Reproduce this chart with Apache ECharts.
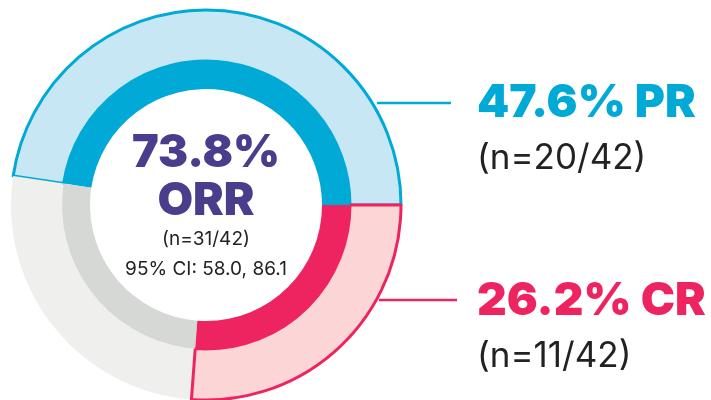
<!DOCTYPE html>
<html>
<head>
<meta charset="utf-8">
<script src="https://cdn.jsdelivr.net/npm/echarts@6/dist/echarts.min.js"></script>
<style>
  html, body { margin: 0; padding: 0; background: #fff; }
  #chart { width: 711px; height: 400px; }
</style>
</head>
<body>
<div id="chart"></div>
<script>
// response categories, counts out of total patients
const categories = ['PR', 'No response', 'CR'];
const counts = [20, 11, 11];
const total = 42;
const orrCI = [58.0, 86.1];

const darkColors = ['#00a9d6', '#d6d8d5', '#ee2461'];
const lightColors = ['#c7e7f4', '#efefed', '#fcd6d6'];

const pct = (n) => (n / total * 100).toFixed(1) + '%';
const orrCount = counts[0] + counts[2];

const chart = echarts.init(document.getElementById('chart'));

const cx = 206, cy = 205;

const ringData = (colors, border) => categories.map((name, i) => ({
  name: name,
  value: counts[i],
  itemStyle: {
    color: colors[i],
    borderColor: border && i !== 1 ? darkColors[i] : colors[i],
    borderWidth: border && i !== 1 ? 3 : 0
  }
}));

const font = (size, weight) => weight + ' ' + size + 'px Inter, "Noto Sans", sans-serif';

chart.setOption({
  animation: false,
  series: [
    {
      type: 'pie',
      center: [cx, cy],
      radius: [144, 195],
      startAngle: 0,
      clockwise: false,
      silent: true,
      label: { show: false },
      labelLine: { show: false },
      data: ringData(lightColors, true)
    },
    {
      type: 'pie',
      center: [cx, cy],
      radius: [116, 144],
      startAngle: 0,
      clockwise: false,
      silent: true,
      label: { show: false },
      labelLine: { show: false },
      data: ringData(darkColors, false)
    }
  ],
  graphic: [
    // center text
    { type: 'text', style: { x: cx, y: 153, text: pct(orrCount), font: font(45, 900), fill: '#4a3e8c', textAlign: 'center', textVerticalAlign: 'middle' } },
    { type: 'text', style: { x: cx, y: 201, text: 'ORR', font: font(46, 900), fill: '#4a3e8c', textAlign: 'center', textVerticalAlign: 'middle' } },
    { type: 'text', style: { x: cx, y: 239, text: '(n=' + orrCount + '/' + total + ')', font: font(19, 400), fill: '#222', textAlign: 'center', textVerticalAlign: 'middle' } },
    { type: 'text', style: { x: cx, y: 269, text: '95% CI: ' + orrCI[0].toFixed(1) + ', ' + orrCI[1].toFixed(1), font: font(19, 400), fill: '#222', textAlign: 'center', textVerticalAlign: 'middle' } },
    // PR label
    { type: 'line', shape: { x1: 377, y1: 103, x2: 451, y2: 103 }, style: { stroke: darkColors[0], lineWidth: 2.5 } },
    { type: 'text', style: { x: 477, y: 103, text: pct(counts[0]) + ' ' + categories[0], font: font(46, 900), fill: darkColors[0], textVerticalAlign: 'middle' } },
    { type: 'text', style: { x: 477, y: 158, text: '(n=' + counts[0] + '/' + total + ')', font: font(35, 400), fill: '#222', textVerticalAlign: 'middle' } },
    // CR label
    { type: 'line', shape: { x1: 379, y1: 300, x2: 457, y2: 300 }, style: { stroke: darkColors[2], lineWidth: 2.5 } },
    { type: 'text', style: { x: 477, y: 301, text: pct(counts[2]) + ' ' + categories[2], font: font(46, 900), fill: darkColors[2], textVerticalAlign: 'middle' } },
    { type: 'text', style: { x: 477, y: 356, text: '(n=' + counts[2] + '/' + total + ')', font: font(35, 400), fill: '#222', textVerticalAlign: 'middle' } }
  ]
});
</script>
</body>
</html>
